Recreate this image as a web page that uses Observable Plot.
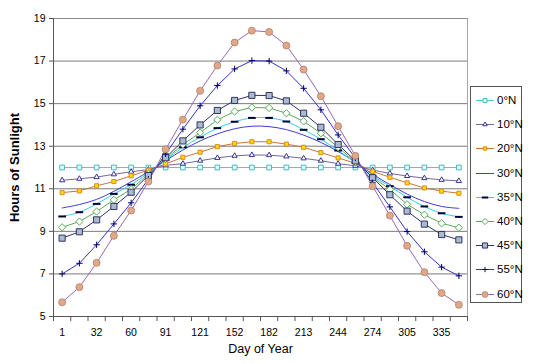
<!DOCTYPE html>
<html>
<head>
<meta charset="utf-8">
<script src="https://cdn.jsdelivr.net/npm/d3@7"></script>
<script src="https://cdn.jsdelivr.net/npm/@observablehq/plot@0.6"></script>
<style>
  html, body { margin: 0; padding: 0; background: #fff; }
  #wrap { position: relative; width: 533px; height: 364px; font-family: "Liberation Sans", Arial, sans-serif; }
  #legend { position: absolute; left: 470px; top: 86px; width: 52px; height: 217px; border: 1px solid #555; background: #fff; box-sizing: border-box; }
  .row { position: absolute; left: 0; height: 16px; display: flex; align-items: center; }
  .row span { font-size: 11.5px; color: #000; margin-left: 1px; }
</style>
</head>
<body>
<div id="wrap"><div id="legend"></div></div>
<script>
const days = [1, 15, 32, 46, 60, 74, 91, 105, 121, 135, 152, 166, 182, 196, 213, 227, 244, 258, 274, 288, 305, 319, 335, 349];
const dayTickLabels = [1, 32, 60, 91, 121, 152, 182, 213, 244, 274, 305, 335];
const yTicks = [5, 7, 9, 11, 13, 15, 17, 19];

const lat0  = [12.0, 12.0, 12.0, 12.0, 12.0, 12.0, 12.0, 12.0, 12.0, 12.0, 12.0, 12.0, 12.0, 12.0, 12.0, 12.0, 12.0, 12.0, 12.0, 12.0, 12.0, 12.0, 12.0, 12.0];
const lat10 = [11.4, 11.47, 11.55, 11.68, 11.8, 11.9, 12.1, 12.18, 12.32, 12.45, 12.55, 12.59, 12.58, 12.52, 12.43, 12.32, 12.18, 12.08, 11.88, 11.72, 11.6, 11.5, 11.42, 11.37];
const lat20 = [10.82, 10.9, 11.14, 11.34, 11.61, 11.87, 12.17, 12.48, 12.72, 12.98, 13.13, 13.21, 13.21, 13.1, 12.95, 12.7, 12.45, 12.2, 11.82, 11.54, 11.28, 11.04, 10.89, 10.79];
const lat30 = [10.1, 10.26, 10.5, 10.88, 11.33, 11.8, 12.32, 12.82, 13.25, 13.58, 13.82, 13.94, 13.92, 13.78, 13.52, 13.18, 12.75, 12.25, 11.68, 11.2, 10.75, 10.4, 10.17, 10.08];
const lat35 = [9.7, 9.9, 10.29, 10.76, 11.19, 11.75, 12.35, 12.95, 13.42, 13.85, 14.15, 14.33, 14.33, 14.16, 13.77, 13.33, 12.8, 12.22, 11.6, 11.12, 10.6, 10.17, 9.85, 9.68];
const lat40 = [9.19, 9.46, 9.93, 10.48, 10.98, 11.7, 12.4, 13.08, 13.64, 14.24, 14.63, 14.82, 14.8, 14.55, 14.17, 13.61, 12.95, 12.25, 11.55, 10.97, 10.27, 9.78, 9.38, 9.17];
const lat45 = [8.68, 8.98, 9.54, 10.17, 10.84, 11.62, 12.46, 13.25, 14.0, 14.68, 15.15, 15.39, 15.38, 15.13, 14.55, 13.89, 13.08, 12.31, 11.52, 10.72, 9.95, 9.34, 8.85, 8.6];
const lat55 = [7.0, 7.5, 8.37, 9.35, 10.34, 11.45, 12.64, 13.8, 14.9, 15.85, 16.63, 17.02, 17.0, 16.54, 15.72, 14.71, 13.53, 12.45, 11.28, 10.15, 8.99, 8.04, 7.32, 6.91];
const lat60 = [5.67, 6.38, 7.52, 8.79, 9.98, 11.34, 12.86, 14.25, 15.6, 16.79, 17.87, 18.43, 18.37, 17.73, 16.6, 15.35, 13.94, 12.55, 11.12, 9.74, 8.32, 7.08, 6.1, 5.55];

const seriesNames = ["0°N", "10°N", "20°N", "30°N", "35°N", "40°N", "45°N", "55°N", "60°N"];
const seriesValues = [lat0, lat10, lat20, lat30, lat35, lat40, lat45, lat55, lat60];

// dash symbol for 35°N
const dashSymbol = { draw(ctx, size) { const w = Math.sqrt(size) * 0.6; ctx.moveTo(-w, 0); ctx.lineTo(w, 0); } };

const styles = {
  "0°N":  { line: "#55cccc", curve: "linear", symbol: d3.symbolSquare2, r: 3.0, fill: "#e4ffff", stroke: "#44bbbb", sw: 1 },
  "10°N": { line: "#77669a", curve: "linear", symbol: d3.symbolTriangle2, r: 2.5, fill: "#ffffff", stroke: "#333399", sw: 1 },
  "20°N": { line: "#c8743a", curve: "linear", symbol: d3.symbolSquare2, r: 2.6, fill: "#ffdd00", stroke: "#e08a20", sw: 1 },
  "30°N": { line: "#3c3cd6", curve: "catmull-rom", symbol: null },
  "35°N": { line: "#33ccee", curve: "catmull-rom", symbol: dashSymbol, r: 3.6, fill: "none", stroke: "#000033", sw: 2 },
  "40°N": { line: "#5aaa5a", curve: "linear", symbol: d3.symbolDiamond2, r: 3.3, fill: "#ffffff", stroke: "#5aaa5a", sw: 1 },
  "45°N": { line: "#333366", curve: "linear", symbol: d3.symbolSquare2, r: 3.9, fill: "#a8bccc", stroke: "#333366", sw: 1 },
  "55°N": { line: "#3333cc", curve: "linear", symbol: d3.symbolPlus, r: 2.2, fill: "none", stroke: "#000066", sw: 1 },
  "60°N": { line: "#9966bb", curve: "linear", symbol: d3.symbolCircle, r: 3.5, fill: "#e0a888", stroke: "#b08068", sw: 0.8 }
};

const rows = [];
seriesNames.forEach((name, s) => {
  seriesValues[s].forEach((v, i) => rows.push({ series: name, i, day: days[i], hours: v }));
});

const labelIdx = dayTickLabels.map(d => days.indexOf(d));
const boundaries = d3.range(-0.5, days.length, 1);

const marks = [
  Plot.ruleY(yTicks.slice(1, -1), { stroke: "#7a7a7a", strokeWidth: 1 }),
  Plot.ruleY(yTicks.slice(-1), { stroke: "#8a8a8a", strokeWidth: 1 }),
  Plot.ruleX(boundaries.slice(-1), { stroke: "#a8a8a8", strokeWidth: 1 }),
  Plot.axisY({ ticks: yTicks, tickSize: 4, tickPadding: 4, fontSize: 10.5, stroke: "#555", label: null }),
  Plot.axisX({ ticks: boundaries, tickSize: 5, tickFormat: () => "", stroke: "#555", label: null }),
  Plot.axisX({ ticks: labelIdx, tickSize: 0, tickPadding: 12, fontSize: 10.5, tickFormat: i => days[i], label: null }),
  Plot.ruleX(boundaries.slice(0, 1), { stroke: "#555", strokeWidth: 1 }),
  Plot.ruleY(yTicks.slice(0, 1), { stroke: "#555", strokeWidth: 1 })
];

seriesNames.forEach(name => {
  const st = styles[name];
  const data = rows.filter(d => d.series === name);
  marks.push(Plot.line(data, { x: "i", y: "hours", stroke: st.line, strokeWidth: 1, curve: st.curve }));
});
seriesNames.forEach(name => {
  const st = styles[name];
  if (!st.symbol) return;
  const data = rows.filter(d => d.series === name);
  marks.push(Plot.dot(data, { x: "i", y: "hours", symbol: st.symbol, r: st.r, fill: st.fill, stroke: st.stroke, strokeWidth: st.sw }));
});

marks.push(Plot.text(["Hours of Sunlight"], { frameAnchor: "left", textAnchor: "middle", text: d => d, rotate: -90, dx: -39, fontSize: 13, fontWeight: "bold" }));
marks.push(Plot.text(["Day of Year"], { frameAnchor: "bottom", textAnchor: "middle", lineAnchor: "middle", text: d => d, dy: 32, fontSize: 12.5 }));

const chart = Plot.plot({
  width: 533,
  height: 364,
  marginLeft: 53,
  marginRight: 66,
  marginTop: 18,
  marginBottom: 48,
  style: { fontFamily: "'Liberation Sans', Arial, sans-serif", fontSize: "10.5px", color: "#000", background: "#fff" },
  x: { type: "linear", domain: [-0.5, days.length - 0.5], axis: null },
  y: { domain: [yTicks[0], yTicks[yTicks.length - 1]], axis: null },
  marks
});
document.getElementById("wrap").prepend(chart);
chart.style.position = "absolute";
chart.style.left = "0";
chart.style.top = "0";

// legend
const legend = document.getElementById("legend");
seriesNames.forEach((name, k) => {
  const st = styles[name];
  const row = document.createElement("div");
  row.className = "row";
  row.style.top = (5 + k * 24.2) + "px";
  row.style.left = "3px";
  const svg = d3.create("svg").attr("width", 22).attr("height", 16);
  svg.append("line").attr("x1", 2).attr("x2", 20).attr("y1", 8.5).attr("y2", 8.5).attr("stroke", st.line).attr("stroke-width", 1);
  if (st.symbol) {
    const size = Math.PI * st.r * st.r * 0.7;
    svg.append("path").attr("transform", "translate(11,8.5)").attr("d", d3.symbol(st.symbol, size)())
      .attr("fill", st.fill).attr("stroke", st.stroke).attr("stroke-width", st.sw);
  }
  row.appendChild(svg.node());
  const span = document.createElement("span");
  span.textContent = name;
  row.appendChild(span);
  legend.appendChild(row);
});
</script>
</body>
</html>
